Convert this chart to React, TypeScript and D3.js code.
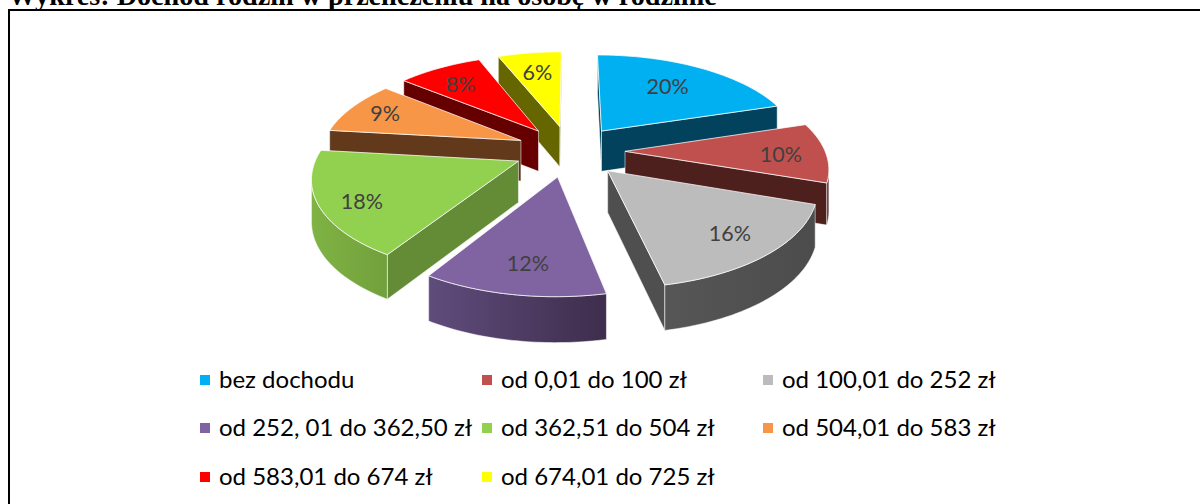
import React from "react";
import * as d3 from "d3";

const categories = [
  "bez dochodu",
  "od 0,01 do 100 zł",
  "od 100,01 do 252 zł",
  "od 252, 01 do 362,50 zł",
  "od 362,51 do 504 zł",
  "od 504,01 do 583 zł",
  "od 583,01 do 674 zł",
  "od 674,01 do 725 zł",
];
const percents = [20, 10, 16, 12, 18, 9, 8, 6];
const shares = [20, 10, 16.3, 12.1, 17.8, 9, 8, 6];
const topColors = ["#00b0f0", "#c0504d", "#bcbcbc", "#8064a2", "#92d050", "#f79646", "#ff0000", "#ffff00"];
const wallColors = ["#02425c", "#4d1f1d", "#4f4f4f", "#443350", "#648c36", "#63391b", "#660000", "#666600"];
const outerFrom = ["#02425c", "#5a2624", "#565656", "#604c7c", "#7fb344", "#63391b", "#660000", "#666600"];
const outerTo = ["#02425c", "#4d1f1d", "#4c4c4c", "#3e2d4c", "#72a03c", "#63391b", "#660000", "#666600"];
const labelRadii = [136, 155, 155, 152, 162, 161, 149, 143];
const labelTurn = [-2, 1, -1, -1, -3, 1, -1, 0];
const explodeTurn = [0, 0, 0, 2.5, 3, 2, 0, 0];
const title = "Wykres: Dochód rodzin w przeliczeniu na osobę w rodzinie";

const W = 1200;
const H = 504;
const cx = 570;
const cy = 151;
const R = 200;
const explode = 55;
const tilt = 0.465;
const persp = 0.00075;

type P = [number, number];

const scaleAt = (Y: number) => 1 / (1 + persp * Y);
const project = (X: number, Y: number): P => {
  const s = scaleAt(Y);
  return [cx + X * s, cy - tilt * Y * s];
};
const depthAt = (Y: number) => 20 + 21 * scaleAt(Y);

const arcs = d3
  .pie<number>()
  .sort(null)
  .startAngle(0)
  .endAngle(2 * Math.PI)(shares);

const closed = d3
  .line<P>()
  .x((d) => d[0])
  .y((d) => d[1])
  .curve(d3.curveLinearClosed);

type Slice = {
  i: number;
  apexY: number;
  top: string;
  walls: string[];
  outer: string | null;
  outerX: [number, number];
  label: P;
};

const rad = (deg: number) => (deg * Math.PI) / 180;

const slices: Slice[] = arcs.map((a, i) => {
  const mid = (a.startAngle + a.endAngle) / 2;
  const dir = mid + rad(explodeTurn[i]);
  const ex = explode * Math.sin(dir);
  const ey = explode * Math.cos(dir);
  const world = (theta: number, r: number): [number, number] => [
    ex + r * Math.sin(theta),
    ey + r * Math.cos(theta),
  ];
  const at = (theta: number, r: number) => {
    const [X, Y] = world(theta, r);
    return project(X, Y);
  };
  const down = (theta: number, r: number): P => {
    const [X, Y] = world(theta, r);
    const p = project(X, Y);
    return [p[0], p[1] + depthAt(Y)];
  };
  const thetas = d3.range(0, 41).map((k) => a.startAngle + ((a.endAngle - a.startAngle) * k) / 40);
  const apex = at(0, 0);
  const rim = thetas.map((t) => at(t, R));
  const midRim = at(mid, R);

  const walls: string[] = [];
  [a.startAngle, a.endAngle].forEach((t) => {
    const e = at(t, R);
    const dx = e[0] - apex[0];
    const lineY = apex[1] + ((e[1] - apex[1]) / (dx || 1e-6)) * (midRim[0] - apex[0]);
    if (midRim[1] < lineY) {
      walls.push(closed([apex, e, down(t, R), down(t, 0)]) as string);
    }
  });

  const facing = thetas.filter((t, k) => {
    if (k === thetas.length - 1) return false;
    return rim[k + 1][0] < rim[k][0];
  });
  let outer: string | null = null;
  let outerX: [number, number] = [0, 1];
  if (facing.length > 0) {
    const upper = [...facing, facing[facing.length - 1] + (thetas[1] - thetas[0])];
    const pts: P[] = [
      ...upper.map((t) => at(t, R)),
      ...upper.slice().reverse().map((t) => down(t, R)),
    ];
    outer = closed(pts) as string;
    outerX = d3.extent(pts, (p) => p[0]) as [number, number];
  }

  return {
    i,
    apexY: apex[1],
    top: closed([apex, ...rim]) as string,
    walls,
    outer,
    outerX,
    label: at(mid + rad(labelTurn[i]), labelRadii[i]),
  };
});

const paintOrder = d3.sort(slices, (s) => s.apexY);

const legendColumn = d3.scaleOrdinal<number, number>().domain([0, 1, 2]).range([200, 482, 763]);
const legendRow = d3.scaleOrdinal<number, number>().domain([0, 1, 2]).range([380, 428, 477]);

const edge = "rgba(255,255,255,0.75)";

export default function App() {
  return (
    <svg
      width={W}
      height={H}
      viewBox={`0 0 ${W} ${H}`}
      style={{ position: "absolute", left: 0, top: 0, background: "#fff", display: "block" }}
    >
      <defs>
        {slices.map((s) => (
          <linearGradient
            key={s.i}
            id={`outer-${s.i}`}
            gradientUnits="userSpaceOnUse"
            x1={s.outerX[1]}
            x2={s.outerX[0]}
            y1={0}
            y2={0}
          >
            <stop offset="0" stopColor={outerTo[s.i]} />
            <stop offset="1" stopColor={outerFrom[s.i]} />
          </linearGradient>
        ))}
      </defs>

      <text x={8} y={5} fontFamily="'Liberation Serif', serif" fontWeight="bold" fontSize={28.15} fill="#000">
        {title}
      </text>
      <path d={`M8,10H${W}`} stroke="#000" strokeWidth={2} fill="none" />
      <path d={`M9,9V${H}`} stroke="#000" strokeWidth={2} fill="none" />

      {paintOrder.map((s) => (
        <g key={s.i}>
          {s.walls.map((d, k) => (
            <path key={k} d={d} fill={wallColors[s.i]} stroke={edge} strokeWidth={0.7} strokeLinejoin="round" />
          ))}
          {s.outer && (
            <path d={s.outer} fill={`url(#outer-${s.i})`} stroke={edge} strokeWidth={0.7} strokeLinejoin="round" />
          )}
          <path d={s.top} fill={topColors[s.i]} stroke={edge} strokeWidth={1} strokeLinejoin="round" />
        </g>
      ))}

      {slices.map((s) => (
        <text
          key={s.i}
          x={s.label[0]}
          y={s.label[1]}
          textAnchor="middle"
          dominantBaseline="central"
          fontFamily="Lato, 'Open Sans', sans-serif"
          fontSize={21.5}
          fill="#404040"
        >
          {percents[s.i]}%
        </text>
      ))}

      {categories.map((c, i) => {
        const x = legendColumn(i % 3);
        const y = legendRow(Math.floor(i / 3));
        return (
          <g key={c}>
            <rect x={x} y={y - 5} width={10} height={10} fill={topColors[i]} />
            <text x={x + 19} y={y + 7.5} fontFamily="Lato, 'Open Sans', sans-serif" fontSize={24} fill="#000">
              {c}
            </text>
          </g>
        );
      })}
    </svg>
  );
}
